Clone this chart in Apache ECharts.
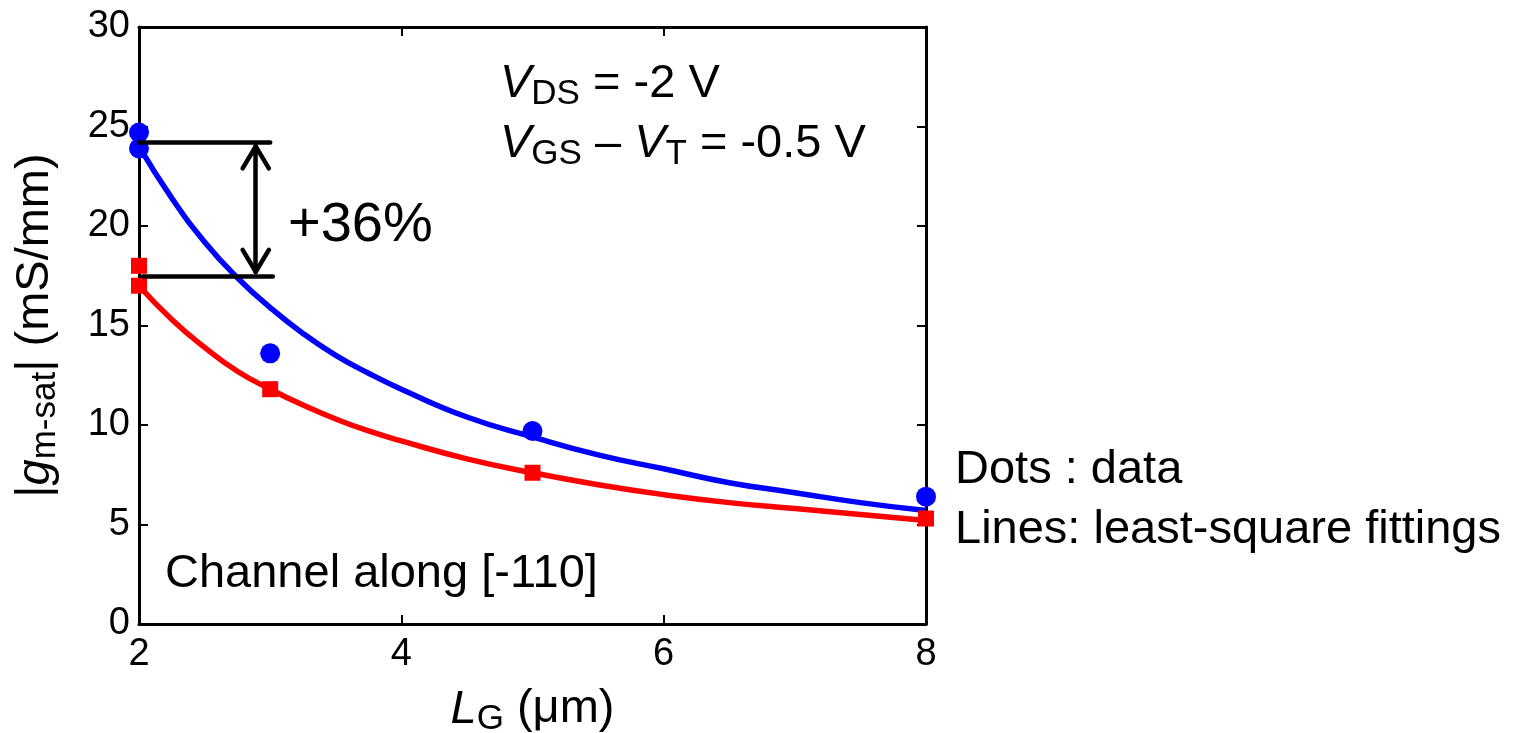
<!DOCTYPE html>
<html><head><meta charset="utf-8">
<script src="https://cdn.jsdelivr.net/npm/echarts@6/dist/echarts.min.js"></script>
<style>html,body{margin:0;padding:0;background:#fff}#c{width:1533px;height:733px}</style>
</head><body><div id="c"></div>
<script>
const xTicks = [2, 4, 6, 8];
const yTicks = [0, 5, 10, 15, 20, 25, 30];
const blueDotsX = [2, 2, 3, 5, 8];
const blueDotsY = [24.7, 23.9, 13.6, 9.7, 6.4];
const redDotsX = [2, 2, 3, 5, 8];
const redDotsY = [18.0, 17.0, 11.8, 7.6, 5.3];
const fitX = [2, 2.25, 2.5, 2.75, 3, 3.25, 3.5, 3.75, 4, 4.5, 5, 5.5, 6, 6.5, 7, 7.5, 8];
const blueFitY = [24.0, 21.4, 19.2, 17.4, 15.9, 14.6, 13.5, 12.6, 11.8, 10.4, 9.4, 8.5, 7.8, 7.1, 6.6, 6.1, 5.7];
const redFitY = [17.0, 15.3, 13.9, 12.7, 11.8, 11.0, 10.3, 9.7, 9.2, 8.3, 7.6, 7.0, 6.5, 6.1, 5.8, 5.5, 5.2];
const bracketTop = 24.2, bracketBottom = 17.5, bracketX0 = 2, bracketX1 = 3.0, arrowX = 2.89;
const arrowTipTop = 24.0, arrowTipBottom = 17.7, headLen = 1.1, headHalfW = 0.1;

const zip = (xs, ys) => xs.map((x, i) => [x, ys[i]]);
const F = 'Liberation Sans, Arial, sans-serif';
const FS = 47;
const chart = echarts.init(document.getElementById('c'));
const axisCommon = {
  axisLine: {show: true, onZero: false, lineStyle: {color: '#000', width: 3}},
  axisTick: {show: true, inside: true, length: 9, lineStyle: {color: '#000', width: 2}},
  splitLine: {show: false}
};
const richG = {
  i: {fontStyle: 'italic', fontSize: FS, fontFamily: F, color: '#000', fill: '#000'},
  s: {fontSize: 35, fontFamily: F, color: '#000', fill: '#000', verticalAlign: 'bottom', padding: [20, 0, 0, 0]},
  n: {fontSize: FS, fontFamily: F, color: '#000', fill: '#000'}
};
const seg = (x0, y0, x1, y1) => [{coord: [x0, y0]}, {coord: [x1, y1]}];
chart.setOption({
  animation: false,
  backgroundColor: '#fff',
  grid: {left: 139, right: 607, top: 27, bottom: 109, containLabel: false, outerBoundsMode: 'none'},
  xAxis: [
    Object.assign({type: 'value', min: 2, max: 8, interval: 2, position: 'bottom',
      axisLabel: {color: '#000', fontSize: 38, fontFamily: F, margin: 12},
      name: '{i|L}{s|G}{n| (μm)}', nameLocation: 'middle', nameGap: 58,
      nameTextStyle: {color: '#000', fontSize: FS, fontFamily: F, rich: richG}
    }, axisCommon),
    Object.assign({type: 'value', min: 2, max: 8, interval: 2, position: 'top', axisLabel: {show: false}}, axisCommon)
  ],
  yAxis: [
    Object.assign({type: 'value', min: 0, max: 30, interval: 5, position: 'left',
      axisLabel: {color: '#000', fontSize: 38, fontFamily: F, margin: 9},
      name: '{n||}{i|g}{s|m-sat}{n|| (mS/mm)}', nameLocation: 'middle', nameGap: 76, nameRotate: 90,
      nameTextStyle: {color: '#000', fontSize: FS, fontFamily: F, rich: richG}
    }, axisCommon),
    Object.assign({type: 'value', min: 0, max: 30, interval: 5, position: 'right', axisLabel: {show: false}}, axisCommon)
  ],
  series: [
    {type: 'line', data: zip(fitX, blueFitY), showSymbol: false, smooth: true,
     lineStyle: {color: '#0000ff', width: 5.5}, z: 2},
    {type: 'line', data: zip(fitX, redFitY), showSymbol: false, smooth: true,
     lineStyle: {color: '#ff0000', width: 5.5}, z: 2},
    {type: 'scatter', data: zip(blueDotsX, blueDotsY), symbol: 'circle', symbolSize: 20,
     itemStyle: {color: '#0000ff', opacity: 1}, z: 4},
    {type: 'scatter', data: zip(redDotsX, redDotsY), symbol: 'rect', symbolSize: 16,
     itemStyle: {color: '#ff0000', opacity: 1}, z: 4},
    {type: 'line', data: [], silent: true, z: 5,
     markLine: {silent: true, symbol: ['none', 'none'], animation: false,
       lineStyle: {color: '#000', width: 4.5, type: 'solid', cap: 'round', join: 'round'}, label: {show: false},
       data: [
         seg(bracketX0, bracketTop, bracketX1, bracketTop),
         seg(bracketX0 + 0.03, bracketBottom, bracketX1 + 0.02, bracketBottom),
         seg(arrowX, arrowTipTop, arrowX, arrowTipBottom),
         seg(arrowX, arrowTipTop, arrowX - headHalfW, arrowTipTop - headLen),
         seg(arrowX, arrowTipTop, arrowX + headHalfW, arrowTipTop - headLen),
         seg(arrowX, arrowTipBottom, arrowX - headHalfW, arrowTipBottom + headLen),
         seg(arrowX, arrowTipBottom, arrowX + headHalfW, arrowTipBottom + headLen)
       ]}}
  ],
  graphic: [
    {type: 'text', x: 288, y: 226, style: {text: '+36%', fontSize: 56, fontFamily: F, fill: '#000', verticalAlign: 'middle'}},
    {type: 'text', x: 500, y: 84, style: {rich: richG, text: '{i|V}{s|DS}{n| = -2 V}', verticalAlign: 'middle'}},
    {type: 'text', x: 500, y: 144, style: {rich: richG, text: '{i|V}{s|GS}{n| – }{i|V}{s|T}{n| = -0.5 V}', verticalAlign: 'middle'}},
    {type: 'text', x: 165, y: 574, style: {text: 'Channel along [-110]', fontSize: FS, fontFamily: F, fill: '#000', verticalAlign: 'middle'}},
    {type: 'text', x: 955, y: 470, style: {text: 'Dots : data', fontSize: FS, fontFamily: F, fill: '#000', verticalAlign: 'middle'}},
    {type: 'text', x: 955, y: 530, style: {text: 'Lines: least-square fittings', fontSize: FS, fontFamily: F, fill: '#000', verticalAlign: 'middle'}}
  ]
});
</script></body></html>
